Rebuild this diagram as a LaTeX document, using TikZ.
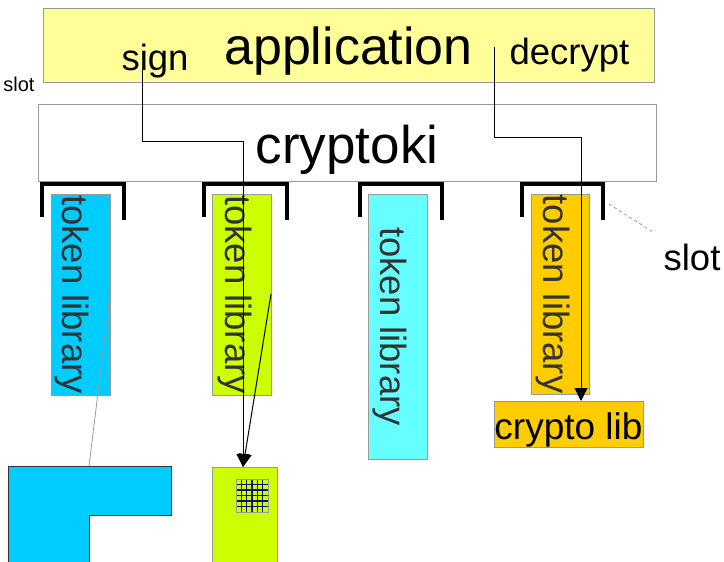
\documentclass[tikz,border=0pt]{standalone}
\usepackage{fontspec}
\setmainfont{Liberation Sans}
\usetikzlibrary{arrows.meta}
\definecolor{appy}{HTML}{FFFF99}
\definecolor{tokblue}{HTML}{00CCFF}
\definecolor{toklime}{HTML}{CCFF00}
\definecolor{tokcyan}{HTML}{66FFFF}
\definecolor{tokorange}{HTML}{FFCC00}
\definecolor{boxgray}{HTML}{999999}
\definecolor{txtgray}{HTML}{333333}
\definecolor{gridblue}{HTML}{10107F}
\begin{document}
\begin{tikzpicture}[x=1pt,y=-1pt,
  box/.style={draw=boxgray, line width=1pt, inner sep=0pt, outer sep=0pt},
  bigtxt/.style={font=\fontsize{52}{62}\selectfont, inner sep=0pt, anchor=base},
  midtxt/.style={font=\fontsize{36.5}{44}\selectfont, inner sep=0pt, anchor=base},
  toktxt/.style={font=\fontsize{36.5}{44}\selectfont, text=txtgray, inner sep=0pt, anchor=base, rotate=-90},
  bracket/.style={line width=4pt, black},
  arr/.style={black, line width=1pt, -{Triangle[length=13pt,width=13pt]}},
  thin/.style={line width=0.8pt}
]
\useasboundingbox (0,0) rectangle (724,562);
\clip (0,0) rectangle (724,562);

% application
\node[box, fill=appy, minimum width=611pt, minimum height=74pt] (app) at (348.5,45) {};
\node[bigtxt] (apptxt) at (348.5,64) {application};
\node[midtxt] (sign) at (155,70) {sign};
\node[midtxt] (decrypt) at (569.5,64) {decrypt};
\node[font=\fontsize{20}{24}\selectfont, inner sep=0pt, anchor=base] (slotl) at (19,91) {slot};

% cryptoki
\node[box, fill=white, minimum width=618pt, minimum height=77pt] (ck) at (347,142.5) {};
\node[font=\fontsize{53}{64}\selectfont, inner sep=0pt, anchor=base] (cktxt) at (347,163) {cryptoki};

% token libraries
\node[box, fill=tokblue, minimum width=59pt, minimum height=201pt] (tl1) at (80.5,294.5) {};
\node[box, fill=toklime, minimum width=59pt, minimum height=201pt] (tl2) at (241.5,294.5) {};
\node[box, fill=tokcyan, minimum width=59pt, minimum height=265pt] (tl3) at (397.5,326.5) {};
\node[box, fill=tokorange, minimum width=58pt, minimum height=200pt] (tl4) at (560,294) {};
\node[toktxt] (tt1) at (63,294.5) {token library};
\node[toktxt] (tt2) at (225,294.5) {token library};
\node[toktxt] (tt3) at (380,326.5) {token library};
\node[toktxt] (tt4) at (543,294) {token library};

% crypto lib
\node[box, fill=tokorange, minimum width=149pt, minimum height=46pt] (clib) at (568.5,424) {};
\node[font=\fontsize{37}{44}\selectfont, inner sep=0pt, anchor=base] (cliptxt) at (568.5,439) {crypto lib};

% brackets (slots)
\foreach \l/\r in {42/124, 204/287, 360/442, 522/603}{
  \draw[bracket] (\l,217) -- (\l,183.5) -- (\r,183.5) -- (\r,219.5);
}
\node[midtxt] (slotr) at (692,270) {slot};
\coordinate (sl0) at (609,204);
\coordinate (sl1) at (653,232);
\draw[boxgray, thin, dashed] (sl0) -- (sl1);

% bottom shapes
\draw[draw=txtgray, line width=1pt, fill=tokblue] (8,466) -- (171,466) -- (171,515) -- (89,515) -- (89,575) -- (8,575) -- cycle;
\node[box, fill=toklime, minimum width=65pt, minimum height=110pt] (bot2) at (244.5,522) {};
\fill[toklime] (236,479) rectangle (268,512);
\foreach \i in {1,...,5}{
  \draw[gridblue, line width=1.2pt] ({236+\i*32/6},479) -- ({236+\i*32/6},512);
  \draw[gridblue, line width=1.2pt] (236,{479+\i*33/6}) -- (268,{479+\i*33/6});
}
\draw[boxgray, line width=1pt] (236,479) rectangle (268,512);

% connectors
\coordinate (s0) at (142,70);
\coordinate (s1) at (142,141);
\coordinate (s2) at (243,141);
\coordinate (s3) at (243,467);
\draw[arr] (s0) -- (s1) -- (s2) -- (s3);
\coordinate (d0) at (494,47);
\coordinate (d1) at (494,137);
\coordinate (d2) at (581,137);
\coordinate (d3) at (581,401);
\draw[arr] (d0) -- (d1) -- (d2) -- (d3);
\coordinate (k0) at (271,294);
\draw[arr] (k0) -- (s3);
\coordinate (b0) at (110,295);
\coordinate (b1) at (89,466);
\draw[boxgray, thin] (b0) -- (b1);
\end{tikzpicture}
\end{document}
